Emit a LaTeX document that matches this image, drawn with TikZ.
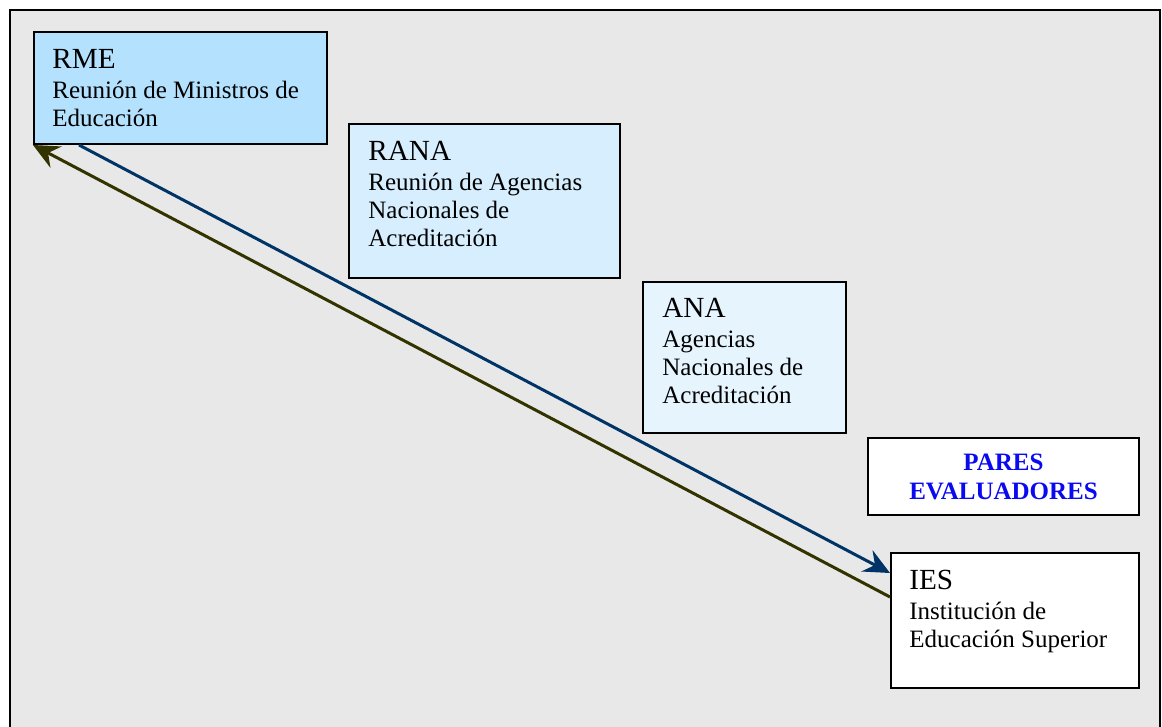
\documentclass[tikz,border=0pt]{standalone}
\usepackage{fontspec}
\setmainfont{Liberation Serif}
\usetikzlibrary{arrows.meta}
\definecolor{bgfill}{HTML}{E8E8E8}
\definecolor{rmefill}{HTML}{B3E1FE}
\definecolor{ranafill}{HTML}{D6EEFD}
\definecolor{anafill}{HTML}{E6F4FE}
\definecolor{navy}{HTML}{003366}
\definecolor{olive}{HTML}{333300}
\definecolor{paresblue}{HTML}{0A0AF0}
\tikzset{>={Stealth[length=13pt, width=12pt, inset=4.5pt]}}
\tikzset{box/.style={draw, line width=1pt, anchor=north west, inner sep=0pt}}
\tikzset{boxtext/.style={anchor=base west, align=left, inner sep=0pt,
  font=\fontsize{12.5}{14}\selectfont}}
\tikzset{link/.style={->, line width=1.5pt}}
\newcommand{\boxtitle}[1]{{\fontsize{14.6}{14}\selectfont #1}}

\begin{document}
\begin{tikzpicture}[x=0.5pt, y=-0.5pt]
    \useasboundingbox (0, 0) rectangle (1162, 727);
    \clip (0, 0) rectangle (1162, 727);
    \draw[fill=bgfill, line width=1.2pt] (10, 10) rectangle (1160, 760);
    \node[box, fill=rmefill, minimum width=146.5pt, minimum height=56pt](rme) at (33, 31){};
    \node[boxtext](rmetext) at ([shift={(19, 96)}]rme.north west){\boxtitle{RME}\\[1pt]Reunión de Ministros de\\Educación};
    \node[box, fill=ranafill, minimum width=135.5pt, minimum height=77pt](rana) at (348, 123){};
    \node[boxtext](ranatext) at ([shift={(20, 124)}]rana.north west){\boxtitle{RANA}\\[1pt]Reunión de Agencias\\Nacionales de\\Acreditación};
    \node[box, fill=anafill, minimum width=101.5pt, minimum height=75.5pt](ana) at (642, 281){};
    \node[boxtext](anatext) at ([shift={(20, 122)}]ana.north west){\boxtitle{ANA}\\[1pt]Agencias\\Nacionales de\\Acreditación};
    \node[box, fill=white, minimum width=135.5pt, minimum height=38.5pt, align=center, text=paresblue,
      font=\fontsize{12.5}{14.5}\selectfont\bfseries](pares) at (867, 437){PARES\\EVALUADORES};
    \node[box, fill=white, minimum width=124pt, minimum height=67.5pt](ies) at (890, 552){};
    \node[boxtext](iestext) at ([shift={(19, 95)}]ies.north west){\boxtitle{IES}\\[1pt]Institución de\\Educación Superior};
    \draw[link, navy]([shift={(46, 0)}]rme.south west)--([shift={(0, 21)}]ies.north west);
    \draw[link, olive]([shift={(0, 45)}]ies.north west)--(rme.south west);
\end{tikzpicture}
\end{document}
